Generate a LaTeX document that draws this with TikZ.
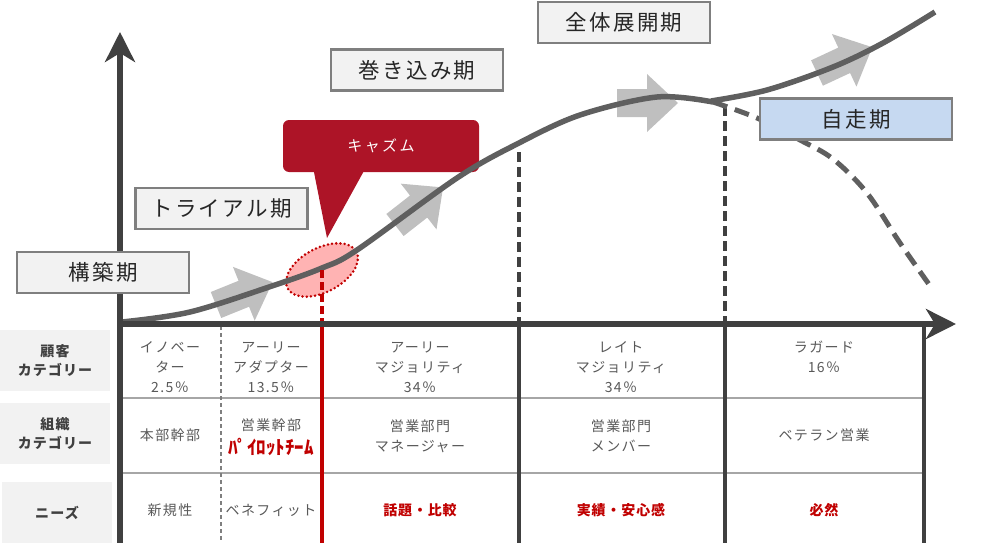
\documentclass[tikz,border=0pt]{standalone}
\usepackage{fontspec}
\setmainfont{Noto Sans CJK JP}
\usetikzlibrary{arrows.meta}
\definecolor{axisgray}{HTML}{404040}
\definecolor{curvegray}{HTML}{5F5F5F}
\definecolor{arrowgray}{HTML}{BFBFBF}
\definecolor{boxgray}{HTML}{F2F2F2}
\definecolor{framegray}{HTML}{7F7F7F}
\definecolor{rulegray}{HTML}{A6A6A6}
\definecolor{textgray}{HTML}{595959}
\definecolor{chasmred}{HTML}{AD1427}
\definecolor{darkred}{HTML}{C00000}
\definecolor{pinkfill}{HTML}{FFB3B3}
\definecolor{selfblue}{HTML}{C6D9F1}
\def\grayarrow(#1)(#2){\fill[arrowgray, shift={(#1)}, rotate=#2] (0,-14) -- (30,-14) -- (30,-29) -- (61,0) -- (30,29) -- (30,14) -- (0,14) -- cycle;}
\tikzset{
	phase/.style={draw=framegray, line width=2.5pt, fill=boxgray, minimum width=172pt, minimum height=41pt, inner sep=0pt, text=black!85, font=\fontsize{21.5}{24}\selectfont\addfontfeature{LetterSpace=11}},
	rowhead/.style={fill=boxgray, minimum width=110pt, minimum height=61pt, inner sep=0pt, text=axisgray, align=center, font=\fontsize{14}{19}\selectfont\bfseries\addfontfeature{LetterSpace=8}},
	cell/.style={text=textgray, align=center, inner sep=0pt, font=\fontsize{14}{20}\selectfont\addfontfeature{LetterSpace=10}},
	needs/.style={text=darkred, inner sep=0pt, font=\fontsize{14}{20}\selectfont\bfseries\addfontfeature{LetterSpace=6}}
}

\begin{document}
\begin{tikzpicture}[x=1pt, y=-1pt]
	%%%%% START %%%%%
	\useasboundingbox (0,0) rectangle (988,543);
	
	\node[rowhead] (custhead) at (55,360.5) {顧客\\カテゴリー};
	\node[rowhead] (orghead) at (55,433.5) {組織\\カテゴリー};
	\node[rowhead] (needhead) at (57,512.5) {ニーズ};
	
	\draw[rulegray, line width=2.5pt] (120,398) -- (924,398);
	\draw[rulegray, line width=2.5pt] (120,473) -- (924,473);
	\draw[framegray, line width=1.2pt, dash pattern=on 4pt off 3pt] (221,326) -- (221,543);
	\draw[axisgray, line width=4pt] (519,324) -- (519,543);
	\draw[axisgray, line width=4pt] (725,324) -- (725,543);
	\draw[axisgray, line width=4pt] (924,324) -- (924,543);
	\draw[axisgray, line width=4pt, dash pattern=on 10pt off 5pt] (519,152) -- (519,324);
	\draw[axisgray, line width=4pt, dash pattern=on 10pt off 5pt] (725,106) -- (725,324);
	
	\grayarrow(216,305)(22)
	\grayarrow(395,225)(38)
	\grayarrow(617,103)(0)
	\grayarrow(817,73)(25)
	
	\draw[darkred, fill=pinkfill, line width=2.8pt, dash pattern=on 0pt off 4.2pt, line cap=round, rotate around={28:(322,270)}] (322,270) ellipse (39 and 22);
	
	\node[fill=chasmred, rounded corners=6pt, minimum width=196pt, minimum height=52pt, inner sep=0pt, text=white, font=\fontsize{15}{18}\selectfont\addfontfeature{LetterSpace=16}] (chasm) at (381,146) {キャズム};
	\fill[chasmred] ([xshift=31pt, yshift=1pt]chasm.south west) -- ([xshift=81pt, yshift=1pt]chasm.south west) -- (327,238) -- cycle;
	
	\draw[curvegray, line width=5.5pt] plot[smooth, tension=0.55] coordinates {(122,322) (190,312) (272,286) (322,268) (357,250) (457,178) (517,144) (580,115) (657,97) (713,102)};
	\draw[curvegray, line width=5.5pt] plot[smooth, tension=0.55] coordinates {(711,101) (767,90) (833,67) (883,43) (935,12)};
	\draw[curvegray, line width=5pt, dash pattern=on 15pt off 8pt] plot[smooth, tension=0.55] coordinates {(713,102) (757,118) (800,140) (833,159) (867,193) (900,243) (933,290)};
	
	\draw[darkred, line width=4pt, dash pattern=on 8pt off 4pt] (322,270) -- (322,324);
	\draw[darkred, line width=4.5pt] (322,324) -- (322,543);
	
	\coordinate (origin) at (120,324);
	\coordinate (ytop) at (120,32);
	\coordinate (xend) at (956,324);
	\draw[axisgray, line width=5.5pt, -{Stealth[length=30pt, width=30pt, inset=9pt]}] (120,543) -- (ytop);
	\draw[axisgray, line width=5.5pt, -{Stealth[length=30pt, width=30pt, inset=9pt]}] (origin) -- (xend);
	
	\node[phase] (build) at (103,272.5) {構築期};
	\node[phase] (trial) at (221.5,208.5) {トライアル期};
	\node[phase] (involve) at (417,70) {巻き込み期};
	\node[phase] (rollout) at (624,22.5) {全体展開期};
	\node[phase, fill=selfblue, minimum width=192pt] (selfrun) at (856,119) {自走期};
	
	\node[cell] (cust1) at (170,367) {イノベー\\ター\\2.5％};
	\node[cell] (cust2) at (271,367) {アーリー\\アダプター\\13.5％};
	\node[cell] (cust3) at (420,367) {アーリー\\マジョリティ\\34％};
	\node[cell] (cust4) at (621,367) {レイト\\マジョリティ\\34％};
	\node[cell] (cust5) at (824,357) {ラガード\\16％};
	
	\node[cell] (org1) at (170,435) {本部幹部};
	\node[cell] (org2) at (271,425) {営業幹部};
	\node[text=darkred, inner sep=0pt, font=\fontsize{19}{20}\selectfont\bfseries] (pilot) at (271,447) {ﾊﾟｲﾛｯﾄﾁｰﾑ};
	\node[cell] (org3) at (420,436) {営業部門\\マネージャー};
	\node[cell] (org4) at (621,436) {営業部門\\メンバー};
	\node[cell] (org5) at (824,435) {ベテラン営業};
	
	\node[cell] (need1) at (170,510) {新規性};
	\node[cell] (need2) at (271,510) {ベネフィット};
	\node[needs] (need3) at (420,510) {話題・比較};
	\node[needs] (need4) at (621,510) {実績・安心感};
	\node[needs] (need5) at (824,510) {必然};
	%%%%% END %%%%%
\end{tikzpicture}
\end{document}
